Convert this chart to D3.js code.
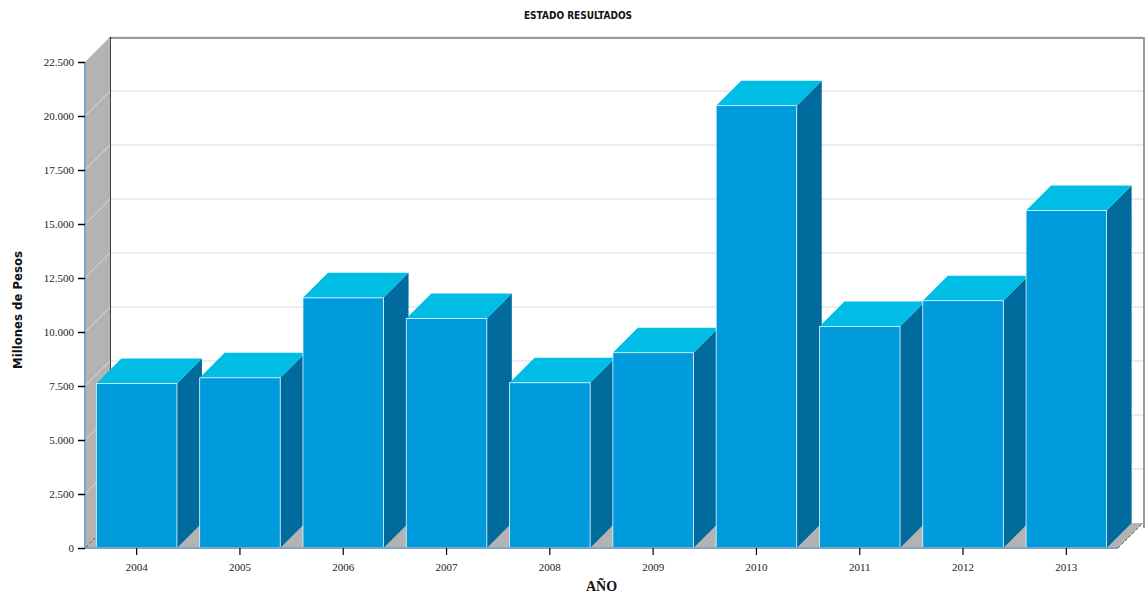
<!DOCTYPE html>
<html>
<head>
<meta charset="utf-8">
<script src="https://cdn.jsdelivr.net/npm/d3@7"></script>
<style>
  html, body { margin: 0; padding: 0; background: #ffffff; }
  svg { display: block; }
</style>
</head>
<body>
<svg id="chart" width="1146" height="594"></svg>
<script>
// Annual results, millions of pesos
const years = ["2004", "2005", "2006", "2007", "2008", "2009", "2010", "2011", "2012", "2013"];
const results = [7620, 7880, 11580, 10630, 7650, 9040, 20480, 10250, 11450, 15620];
const yTicks = [0, 2500, 5000, 7500, 10000, 12500, 15000, 17500, 20000, 22500];

(function draw() {
  const plotLeft = 85, plotRight = 1118, plotBottom = 548, plotTop = 62;
  const depth = 25;

  const svg = d3.select("#chart");

  const x = d3.scaleBand().domain(years).range([plotLeft, plotRight])
    .paddingInner(0.22).paddingOuter(0.11);
  const y = d3.scaleLinear().domain([0, 22500]).range([plotBottom, plotTop]);

  const locale = d3.formatLocale({ decimal: ",", thousands: ".", grouping: [3], currency: ["$", ""] });
  const fmt = locale.format(",");

  // Floor
  svg.append("polygon")
    .attr("points", [[plotLeft, plotBottom], [plotLeft + depth, plotBottom - depth], [plotRight + depth, plotBottom - depth], [plotRight, plotBottom]].join(" "))
    .attr("fill", "#b3b3b3");

  // Back wall grid lines
  svg.append("g").selectAll("line").data(yTicks.filter(d => d > 0)).join("line")
    .attr("x1", plotLeft + depth).attr("x2", plotRight + depth)
    .attr("y1", d => y(d) - depth).attr("y2", d => y(d) - depth)
    .attr("stroke", "#e6e6e6").attr("stroke-width", 1.5);

  // Back wall border: top and right in grey, left in black
  svg.append("line")
    .attr("x1", plotLeft + depth).attr("x2", plotRight + depth + 1)
    .attr("y1", plotTop - depth + 1).attr("y2", plotTop - depth + 1)
    .attr("stroke", "#9a9a9a").attr("stroke-width", 2);
  svg.append("line")
    .attr("x1", plotRight + depth + 1).attr("x2", plotRight + depth + 1)
    .attr("y1", plotTop - depth).attr("y2", plotBottom - depth + 5)
    .attr("stroke", "#9a9a9a").attr("stroke-width", 2);
  svg.append("line")
    .attr("x1", plotLeft + depth).attr("x2", plotLeft + depth)
    .attr("y1", plotTop - depth).attr("y2", plotBottom - depth)
    .attr("stroke", "#000").attr("stroke-width", 1.5);

  // Left wall
  svg.append("polygon")
    .attr("points", [[plotLeft, plotTop], [plotLeft + depth, plotTop - depth], [plotLeft + depth, plotBottom - depth], [plotLeft, plotBottom]].join(" "))
    .attr("fill", "#b3b3b3");
  svg.append("g").selectAll("line").data(yTicks.filter(d => d > 0 && d < 22500)).join("line")
    .attr("x1", plotLeft).attr("x2", plotLeft + depth)
    .attr("y1", d => y(d)).attr("y2", d => y(d) - depth)
    .attr("stroke", "#dcdcdc").attr("stroke-width", 1);
  svg.append("line")
    .attr("x1", plotLeft + 1).attr("x2", plotLeft + depth - 2)
    .attr("y1", plotBottom - 1).attr("y2", plotBottom - depth + 2)
    .attr("stroke", "#333").attr("stroke-width", 0.8).attr("stroke-dasharray", "3,2");

  // Floor right edge
  svg.append("line")
    .attr("x1", plotRight).attr("x2", plotRight + depth)
    .attr("y1", plotBottom).attr("y2", plotBottom - depth)
    .attr("stroke", "#333").attr("stroke-width", 0.8).attr("stroke-dasharray", "3,2");

  // 3D bars
  const bw = x.bandwidth();
  const bars = svg.append("g").selectAll("g").data(years.map((yr, i) => ({ yr, v: results[i] }))).join("g");
  bars.append("polygon")
    .attr("points", d => {
      const x0 = x(d.yr) + bw, yt = y(d.v);
      return [[x0, yt], [x0 + depth, yt - depth], [x0 + depth, plotBottom - depth], [x0, plotBottom]].join(" ");
    })
    .attr("fill", "#006b9c");
  bars.append("polygon")
    .attr("points", d => {
      const x0 = x(d.yr), yt = y(d.v);
      return [[x0, yt], [x0 + depth, yt - depth], [x0 + bw + depth, yt - depth], [x0 + bw, yt]].join(" ");
    })
    .attr("fill", "#00bde6");
  bars.append("rect")
    .attr("x", d => x(d.yr)).attr("y", d => y(d.v))
    .attr("width", bw).attr("height", d => plotBottom - y(d.v))
    .attr("fill", "#009bdc")
    .attr("stroke", "#e8f6fc").attr("stroke-width", 0.8);

  // Axes
  const labelFont = "'Liberation Serif', serif";
  const yAxis = svg.append("g").attr("transform", `translate(${plotLeft},0)`)
    .call(d3.axisLeft(y).tickValues(yTicks).tickFormat(fmt).tickSize(7).tickPadding(4));
  yAxis.select(".domain").attr("stroke", "#7fa6c6").attr("stroke-width", 2).attr("d", `M0,${plotTop}V${plotBottom}`);
  yAxis.selectAll(".tick line").attr("stroke", "#000").attr("stroke-width", 1.5);
  yAxis.selectAll(".tick text").attr("font-family", labelFont).attr("font-size", 11).attr("fill", "#222");

  const xAxis = svg.append("g").attr("transform", `translate(0,${plotBottom})`)
    .call(d3.axisBottom(x).tickSize(7).tickPadding(8));
  xAxis.select(".domain").attr("stroke", "#7fa6c6").attr("stroke-width", 2).attr("d", `M${plotLeft},0H${plotRight}`);
  xAxis.selectAll(".tick line").attr("stroke", "#000").attr("stroke-width", 1.2);
  xAxis.selectAll(".tick text").attr("font-family", labelFont).attr("font-size", 11).attr("fill", "#222");

  // Titles
  svg.append("text")
    .attr("x", 578).attr("y", 19).attr("text-anchor", "middle")
    .attr("font-family", "'DejaVu Sans Condensed', 'DejaVu Sans', sans-serif")
    .attr("font-weight", "bold").attr("font-size", 10).attr("fill", "#111")
    .text("ESTADO RESULTADOS");

  svg.append("text")
    .attr("transform", "translate(22,310) rotate(-90)")
    .attr("text-anchor", "middle")
    .attr("font-family", "'DejaVu Sans Condensed', 'DejaVu Sans', sans-serif")
    .attr("font-weight", "bold").attr("font-size", 13).attr("fill", "#111")
    .text("Millones de Pesos");

  svg.append("text")
    .attr("x", (plotLeft + plotRight) / 2).attr("y", 591).attr("text-anchor", "middle")
    .attr("font-family", labelFont)
    .attr("font-weight", "bold").attr("font-size", 14).attr("fill", "#111")
    .text("AÑO");
})();
</script>
</body>
</html>
